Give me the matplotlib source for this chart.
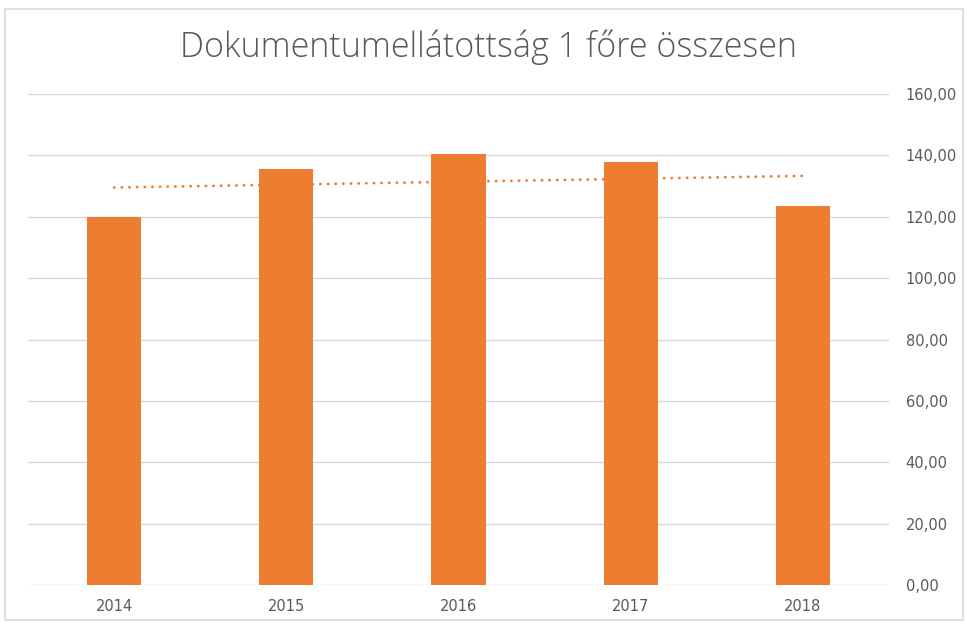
import matplotlib
matplotlib.use("Agg")
import matplotlib.pyplot as plt
import numpy as np
from matplotlib.patches import Rectangle

years = ["2014", "2015", "2016", "2017", "2018"]
values = [119.9, 135.5, 140.4, 137.8, 123.5]
yticks = [0, 20, 40, 60, 80, 100, 120, 140, 160]
title = "Dokumentumellátottság 1 főre összesen"

W, H = 967, 629
fig = plt.figure(figsize=(W / 100, H / 100), dpi=100)
fig.patch.set_facecolor("white")
fig.add_artist(Rectangle((5 / W, 1 - 620 / H), 958 / W, 611 / H, transform=fig.transFigure,
                         fill=False, edgecolor="#d9d9d9", lw=1.2))

ax = fig.add_axes([28 / W, 1 - 585 / H, (889 - 28) / W, (585 - 94) / H])
x = np.arange(len(years))
ax.bar(x, values, width=0.315, color="#ED7D31", zorder=3)
coef = np.polyfit(x, values, 1)
ax.plot(x, np.polyval(coef, x), linestyle=(0, (0.1, 2.65)), dash_capstyle="round",
        color="#ED7D31", lw=2.0, zorder=2)

ax.set_xlim(-0.5, len(years) - 0.5)
ax.set_ylim(0, 160)
ax.set_yticks(yticks)
ax.set_yticklabels([f"{v:.2f}".replace(".", ",") for v in yticks])
ax.yaxis.tick_right()
ax.set_xticks(x)
ax.set_xticklabels(years)
ax.tick_params(axis="both", length=0, colors="#595959", labelsize=10.5)
ax.tick_params(axis="y", pad=12)
ax.tick_params(axis="x", pad=10)
ax.grid(axis="y", color="#d9d9d9", lw=1, zorder=0)
for s in ax.spines.values():
    s.set_visible(False)

fig.text(489 / W, 1 - 47 / H, title, ha="center", va="center", fontsize=24.5,
         family="Open Sans", fontweight="light", color="#595959")

fig.savefig("out.png", dpi=100)
